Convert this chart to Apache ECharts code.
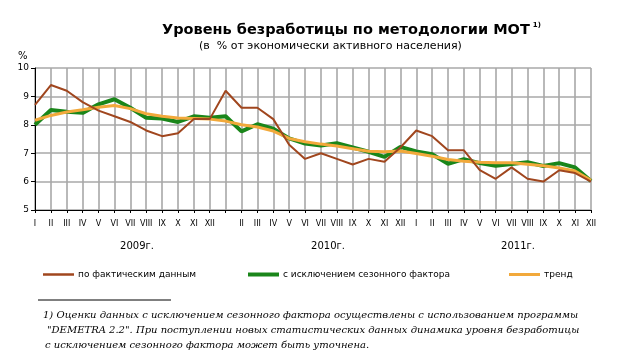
<!DOCTYPE html>
<html><head><meta charset="utf-8">
<script src="https://cdn.jsdelivr.net/npm/echarts@6/dist/echarts.min.js"></script>
<style>html,body{margin:0;padding:0;background:#fff}#c{width:620px;height:364px}</style>
</head><body><div id="c"></div>
<script>
const months = ['I','II','III','IV','V','VI','VII','VIII','IX','X','XI','XII',
  '','II','III','IV','V','VI','VII','VIII','IX','X','XI','XII',
  'I','II','III','IV','V','VI','VII','VIII','IX','X','XI','XII'];
const yearLabels = ['2009г.','2010г.','2011г.'];
const actual = [8.7,9.4,9.2,8.8,8.5,8.3,8.1,7.8,7.6,7.7,8.2,8.2,
  9.2,8.6,8.6,8.2,7.3,6.8,7.0,6.8,6.6,6.8,6.7,7.2,
  7.8,7.6,7.1,7.1,6.4,6.1,6.5,6.1,6.0,6.4,6.3,6.0];
const seasonal = [8.0,8.52,8.46,8.42,8.72,8.9,8.6,8.25,8.22,8.1,8.3,8.25,
  8.3,7.77,8.02,7.86,7.52,7.34,7.27,7.35,7.2,7.05,6.87,7.22,
  7.06,6.96,6.63,6.79,6.65,6.56,6.62,6.68,6.55,6.65,6.5,6.02];
const trend = [8.16,8.33,8.45,8.53,8.62,8.68,8.57,8.39,8.3,8.24,8.22,8.2,
  8.13,8.0,7.92,7.78,7.52,7.4,7.32,7.25,7.16,7.07,7.05,7.08,
  6.99,6.89,6.78,6.72,6.68,6.66,6.66,6.61,6.56,6.48,6.37,6.05];
const names = ['по фактическим данным','с исключением сезонного фактора','тренд'];
const colors = ['#A0461E','#1A861A','#F2A93B'];
const footnote = [
  '1) Оценки данных с исключением сезонного фактора осуществлены с использованием программы',
  '"DEMETRA 2.2". При поступлении новых статистических данных динамика уровня безработицы',
  'с исключением сезонного фактора может быть уточнена.'
];

const chart = echarts.init(document.getElementById('c'));
const font = 'DejaVu Sans';
function legendFor(i, left, h) {
  return {data:[{name:names[i], icon:'rect'}], left:left, top:270, padding:0, itemWidth:31, itemHeight:h, itemGap:0,
    textStyle:{fontFamily:font, fontSize:9, color:'#000', padding:[0,0,0,-1]}};
}
chart.setOption({
  animation:false,
  title:[
    {text:'Уровень безработицы по методологии МОТ{sup|1)}', left:162, top:22, padding:0,
     textStyle:{fontFamily:font, fontSize:14.5, fontWeight:'bold', color:'#000',
       rich:{sup:{fontFamily:font, fontSize:7, color:'#000', verticalAlign:'top', padding:[0,0,9,3]}}}},
    {text:'(в  % от экономически активного населения)', left:199, top:41, padding:0,
     textStyle:{fontFamily:font, fontSize:11, fontWeight:'normal', color:'#000'}}
  ],
  legend:[legendFor(0,43,2.5), legendFor(1,248,4), legendFor(2,509,3)],
  grid:{left:35, top:68, right:29, bottom:154, containLabel:false},
  xAxis:{type:'category', data:months, boundaryGap:false,
    axisLine:{lineStyle:{color:'#000', width:1}},
    axisTick:{show:true, interval:0, length:3, lineStyle:{color:'#000'}},
    axisLabel:{interval:0, fontFamily:font, fontSize:8, color:'#000', margin:10},
    splitLine:{show:true, interval:0, lineStyle:{color:'#a8a8a8', width:1.6}}},
  yAxis:{type:'value', min:5, max:10, interval:1,
    axisLine:{show:true, lineStyle:{color:'#000', width:1}},
    axisTick:{show:true, length:4, lineStyle:{color:'#000'}},
    axisLabel:{fontFamily:font, fontSize:9, color:'#000', margin:6},
    splitLine:{show:true, lineStyle:{color:'#a8a8a8', width:1.6}}},
  series:[
    {name:names[1], type:'line', data:seasonal, showSymbol:false, symbol:'none', z:2,
      lineStyle:{color:colors[1], width:4}, itemStyle:{color:colors[1]}},
    {name:names[2], type:'line', data:trend, showSymbol:false, symbol:'none', z:3,
      lineStyle:{color:colors[2], width:3}, itemStyle:{color:colors[2]}},
    {name:names[0], type:'line', data:actual, showSymbol:false, symbol:'none', z:4,
      lineStyle:{color:colors[0], width:2}, itemStyle:{color:colors[0]}}
  ],
  graphic:[
    {type:'text', left:18, top:51, style:{text:'%', font:'10px DejaVu Sans', fill:'#000'}},
    {type:'text', x:137, y:246, style:{text:yearLabels[0], font:'10px DejaVu Sans', fill:'#000', align:'center', verticalAlign:'middle'}},
    {type:'text', x:328, y:246, style:{text:yearLabels[1], font:'10px DejaVu Sans', fill:'#000', align:'center', verticalAlign:'middle'}},
    {type:'text', x:518, y:246, style:{text:yearLabels[2], font:'10px DejaVu Sans', fill:'#000', align:'center', verticalAlign:'middle'}},
    {type:'line', shape:{x1:38, y1:300, x2:171, y2:300}, style:{stroke:'#000', lineWidth:1}},
    {type:'text', x:43, y:315, style:{text:footnote[0], font:'italic 10px "DejaVu Serif"', fill:'#000', verticalAlign:'middle'}},
    {type:'text', x:47, y:330, style:{text:footnote[1], font:'italic 10px "DejaVu Serif"', fill:'#000', verticalAlign:'middle'}},
    {type:'text', x:45, y:345, style:{text:footnote[2], font:'italic 10px "DejaVu Serif"', fill:'#000', verticalAlign:'middle'}}
  ]
});
</script></body></html>
